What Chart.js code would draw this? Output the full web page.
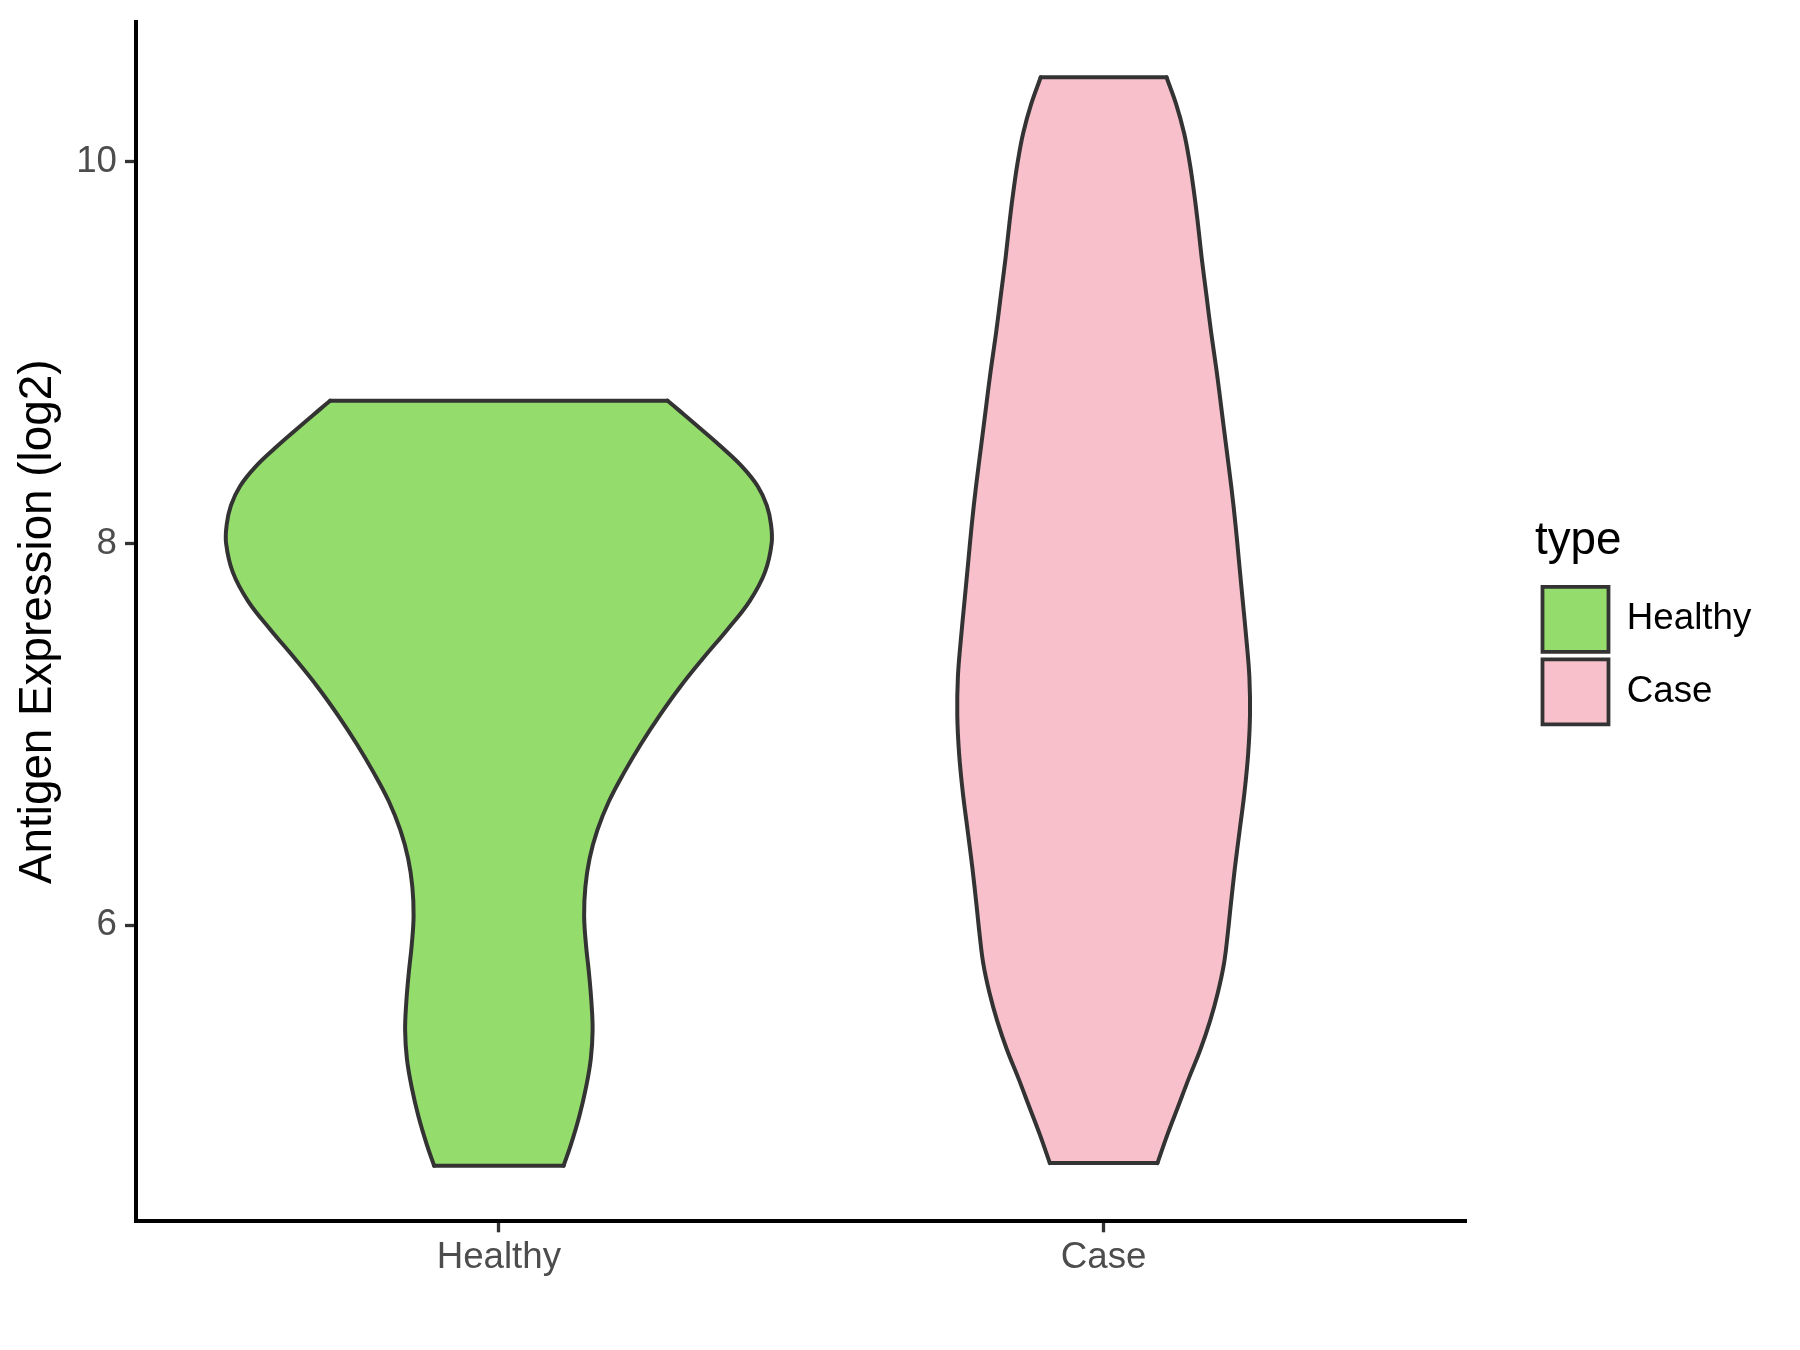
<!DOCTYPE html>
<html>
<head>
<meta charset="utf-8">
<title>Antigen Expression violin</title>
<script src="https://cdn.jsdelivr.net/npm/chart.js@4/dist/chart.umd.min.js"></script>
<style>
  html, body { margin: 0; padding: 0; background: #ffffff; }
  #wrap { width: 1800px; height: 1350px; }
</style>
</head>
<body>
<div id="wrap"><canvas id="c" width="1800" height="1350"></canvas></div>
<script>
// ---------------- data ----------------
const categories = ['Healthy', 'Case'];
const yTicks = [6, 8, 10];

// Healthy violin: expression levels (log2) and half-width of the density outline (category units)
const healthyLevels = [4.741, 4.85, 5.00, 5.15, 5.30, 5.45, 5.60, 5.75, 5.90, 6.05, 6.20, 6.35, 6.50,
  6.65, 6.80, 6.95, 7.10, 7.25, 7.40, 7.55, 7.70, 7.85, 8.00, 8.10, 8.20, 8.30, 8.40, 8.50, 8.60, 8.70, 8.748];
const healthyHalfWidth = [0.107, 0.119, 0.133, 0.144, 0.152, 0.155, 0.153, 0.149, 0.144, 0.141, 0.143, 0.150, 0.163,
  0.182, 0.207, 0.235, 0.266, 0.300, 0.338, 0.378, 0.415, 0.440, 0.451, 0.450, 0.443, 0.428, 0.403, 0.370, 0.334, 0.297, 0.279];

// Case violin
const caseLevels = [4.755, 4.90, 5.05, 5.20, 5.35, 5.50, 5.65, 5.80, 5.95, 6.10, 6.30, 6.50, 6.70, 6.90,
  7.10, 7.30, 7.50, 7.70, 7.90, 8.10, 8.30, 8.50, 8.70, 8.90, 9.10, 9.30, 9.50, 9.70, 9.85, 10.00, 10.15, 10.30, 10.442];
const caseHalfWidth = [0.089, 0.105, 0.123, 0.141, 0.160, 0.176, 0.189, 0.199, 0.205, 0.210, 0.217, 0.225, 0.233, 0.239,
  0.242, 0.241, 0.236, 0.230, 0.224, 0.218, 0.211, 0.203, 0.195, 0.187, 0.178, 0.170, 0.162, 0.155, 0.149, 0.142, 0.133, 0.120, 0.104];

// ---------------- styling ----------------
const FONT = '"Liberation Sans", Arial, Helvetica, sans-serif';
const fills = ['#94DC6B', '#F7C0CB'];
const OUTLINE = '#333333';
const OUTLINE_W = 4;

function violinDatasets(name, center, levels, halfWidth, fillColor) {
  const base = {
    borderColor: OUTLINE,
    borderWidth: OUTLINE_W,
    pointRadius: 0,
    pointHoverRadius: 0,
    borderCapStyle: 'round',
    borderJoinStyle: 'round'
  };
  const right = levels.map((v, i) => ({ x: center + halfWidth[i], y: v }));
  const left = levels.map((v, i) => ({ x: center - halfWidth[i], y: v }));
  const n = levels.length - 1;
  return [
    Object.assign({}, base, { label: name, data: right, fill: '+1', backgroundColor: fillColor,
      tension: 0.4 }),
    Object.assign({}, base, { label: name + ' (left)', data: left, fill: false,
      tension: 0.4 }),
    Object.assign({}, base, { label: name + ' (bottom)', fill: false, tension: 0,
      data: [{ x: center - halfWidth[0], y: levels[0] }, { x: center + halfWidth[0], y: levels[0] }] }),
    Object.assign({}, base, { label: name + ' (top)', fill: false, tension: 0,
      data: [{ x: center - halfWidth[n], y: levels[n] }, { x: center + halfWidth[n], y: levels[n] }] })
  ];
}

const datasets = []
  .concat(violinDatasets(categories[0], 1, healthyLevels, healthyHalfWidth, fills[0]))
  .concat(violinDatasets(categories[1], 2, caseLevels, caseHalfWidth, fills[1]));

// layout targets (pixels)
const PLOT_RIGHT = 1466.5;
const LEGEND_LEFT = 1535;
const LEGEND_TOP = 518;

const legendPlace = {
  id: 'legendPlace',
  beforeLayout(chart) {
    const lg = chart.legend;
    if (lg && !lg.__fixed) {
      const fit = lg.fit;
      lg.fit = function () {
        fit.call(this);
        this.width = chart.width - PLOT_RIGHT;
      };
      lg.__fixed = true;
    }
  },
  afterLayout(chart) {
    const lg = chart.legend;
    if (!lg) return;
    const w = lg.width, h = lg.height;
    lg.left = LEGEND_LEFT;
    lg.right = LEGEND_LEFT + w;
    lg.top = LEGEND_TOP;
    lg.bottom = LEGEND_TOP + h;
  }
};

function noPad(scale) {
  scale.paddingTop = 0;
  scale.paddingBottom = 0;
  scale.paddingLeft = 0;
  scale.paddingRight = 0;
}

new Chart(document.getElementById('c'), {
  type: 'line',
  data: { datasets: datasets },
  plugins: [legendPlace],
  options: {
    indexAxis: 'y',
    responsive: false,
    animation: false,
    devicePixelRatio: 1,
    events: [],
    layout: { padding: { top: 22.3, right: 0, bottom: 0, left: 0 } },
    plugins: {
      filler: { drawTime: 'beforeDatasetsDraw' },
      tooltip: { enabled: false },
      legend: {
        display: true,
        position: 'right',
        align: 'start',
        title: {
          display: true,
          text: 'type',
          position: 'start',
          color: '#000000',
          font: { family: FONT, size: 45.8 },
          padding: { top: 0, bottom: 6.4 }
        },
        labels: {
          boxWidth: 66,
          boxHeight: 65,
          padding: 7.5,
          color: '#000000',
          font: { family: FONT, size: 36.7 },
          generateLabels: () => categories.map((c, i) => ({
            text: c,
            fillStyle: fills[i],
            strokeStyle: OUTLINE,
            lineWidth: 3.8,
            hidden: false,
            datasetIndex: i * 4,
            fontColor: '#000000'
          }))
        }
      }
    },
    scales: {
      x: {
        type: 'linear',
        position: 'bottom',
        min: 0.4,
        max: 2.6,
        afterBuildTicks: (scale) => { scale.ticks = categories.map((c, i) => ({ value: i + 1 })); },
        afterFit: (scale) => { scale.height = 1350 - 1221.3; noPad(scale); },
        ticks: {
          autoSkip: false,
          maxRotation: 0,
          padding: 3.5,
          color: '#4D4D4D',
          font: { family: FONT, size: 36.7 },
          callback: (v) => categories[Math.round(v) - 1]
        },
        grid: {
          display: true,
          drawOnChartArea: false,
          drawTicks: true,
          tickLength: 11,
          tickWidth: 3.3,
          tickColor: OUTLINE
        },
        border: { display: true, color: '#000000', width: 4 },
        title: { display: false }
      },
      y: {
        type: 'linear',
        position: 'left',
        reverse: false,
        min: 4.45,
        max: 10.73,
        afterBuildTicks: (scale) => { scale.ticks = yTicks.map(v => ({ value: v })); },
        afterFit: (scale) => { scale.width = 136; noPad(scale); },
        ticks: {
          padding: 8,
          color: '#4D4D4D',
          font: { family: FONT, size: 36.7 },
          callback: (v) => String(v)
        },
        grid: {
          display: true,
          drawOnChartArea: false,
          drawTicks: true,
          tickLength: 11,
          tickWidth: 3.3,
          tickColor: OUTLINE
        },
        border: { display: true, color: '#000000', width: 4 },
        title: {
          display: true,
          text: 'Antigen Expression (log2)',
          color: '#000000',
          font: { family: FONT, size: 45.8, lineHeight: 1.2 },
          padding: { top: 11, bottom: 0 }
        }
      }
    }
  }
});
</script>
</body>
</html>
